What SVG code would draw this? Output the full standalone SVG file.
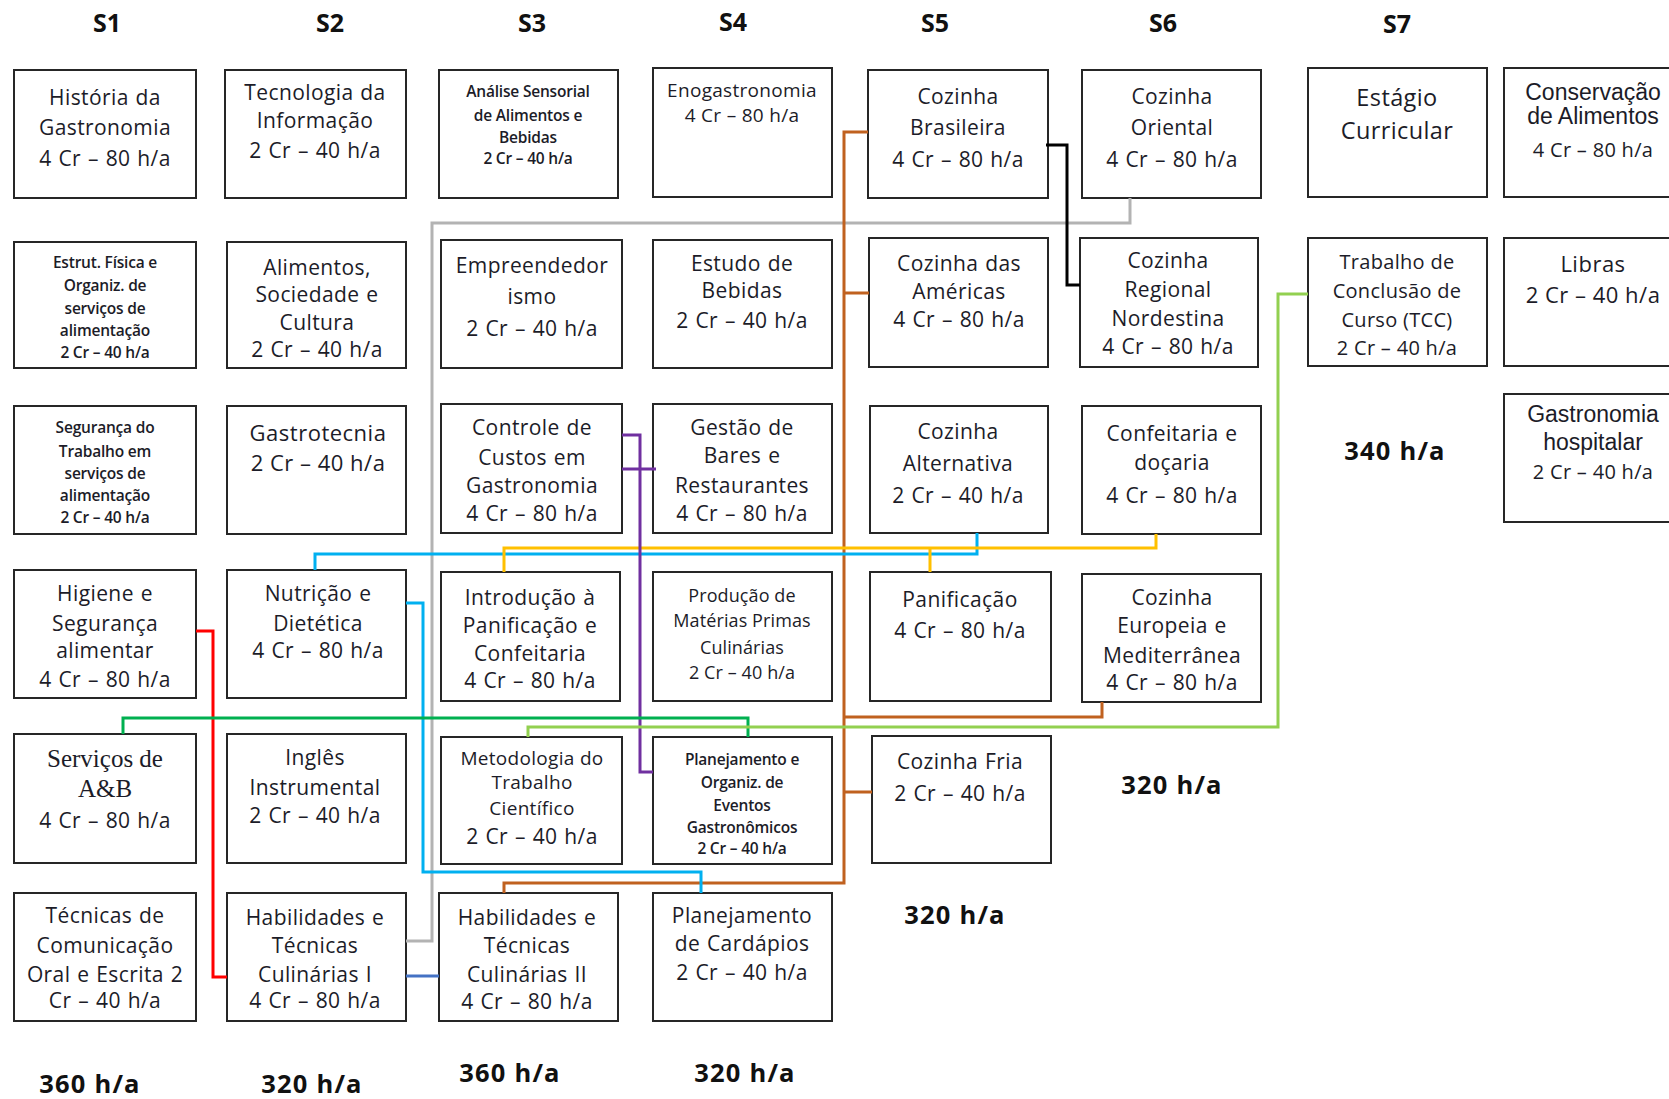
<svg xmlns="http://www.w3.org/2000/svg" width="1669" height="1099" viewBox="0 0 1669 1099">
<style>
.bg{fill:#fff}
.box{fill:#fff;stroke:#262626;stroke-width:2}
text{font-family:"Open Sans","Liberation Sans",sans-serif;fill:#1c1c28;text-anchor:middle}
.t{font-size:21px;letter-spacing:0.4px;word-spacing:1px}
.t19{font-size:19px;letter-spacing:0.3px}
.t18{font-size:18px;letter-spacing:0.1px}
.t20{font-size:20px;letter-spacing:0.3px}
.t22{font-size:22px;letter-spacing:0.5px}
.t24{font-size:23.5px;letter-spacing:0.4px}
.s{font-size:15.5px;font-weight:600;letter-spacing:-0.2px}
.ar{font-family:"Liberation Sans",Arial,sans-serif;font-size:23px}
.sf{font-family:"Liberation Serif","Times New Roman",serif;font-size:25px}
.h{font-size:25px;font-weight:700;fill:#111}
.tot{font-size:25.5px;font-weight:700;fill:#111;letter-spacing:1.2px}
.c{fill:none;stroke-width:3;stroke-linejoin:miter;stroke-linecap:butt}
</style>
<rect class="bg" x="0" y="0" width="1669" height="1099"/>

<g id="headings">
<text class="h" x="107" y="32">S1</text>
<text class="h" x="330" y="32">S2</text>
<text class="h" x="532" y="32">S3</text>
<text class="h" x="733" y="31">S4</text>
<text class="h" x="935" y="32">S5</text>
<text class="h" x="1163" y="32">S6</text>
<text class="h" x="1397" y="33">S7</text>
</g>

<g id="n1"><rect class="box" x="14" y="70" width="182" height="128"/>
<text class="t"><tspan x="105" y="105">História da</tspan><tspan x="105" y="135">Gastronomia</tspan><tspan x="105" y="166">4 Cr – 80 h/a</tspan></text></g>
<g id="n2"><rect class="box" x="225" y="70" width="181" height="128"/>
<text class="t"><tspan x="315" y="100">Tecnologia da</tspan><tspan x="315" y="128">Informação</tspan><tspan x="315" y="158">2 Cr – 40 h/a</tspan></text></g>
<g id="n3"><rect class="box" x="439" y="70" width="179" height="128"/>
<text class="s"><tspan x="528" y="97">Análise Sensorial</tspan><tspan x="528" y="121">de Alimentos e</tspan><tspan x="528" y="143">Bebidas</tspan><tspan x="528" y="164">2 Cr – 40 h/a</tspan></text></g>
<g id="n4"><rect class="box" x="653" y="68" width="179" height="129"/>
<text class="t19"><tspan x="742" y="97">Enogastronomia</tspan><tspan x="742" y="122">4 Cr – 80 h/a</tspan></text></g>
<g id="n5"><rect class="box" x="868" y="70" width="180" height="128"/>
<text class="t"><tspan x="958" y="104">Cozinha</tspan><tspan x="958" y="135">Brasileira</tspan><tspan x="958" y="167">4 Cr – 80 h/a</tspan></text></g>
<g id="n6"><rect class="box" x="1082" y="70" width="179" height="128"/>
<text class="t"><tspan x="1172" y="104">Cozinha</tspan><tspan x="1172" y="135">Oriental</tspan><tspan x="1172" y="167">4 Cr – 80 h/a</tspan></text></g>
<g id="n7"><rect class="box" x="1308" y="68" width="179" height="129"/>
<text class="t24"><tspan x="1397" y="106">Estágio</tspan><tspan x="1397" y="139">Curricular</tspan></text></g>
<g id="n8"><rect class="box" x="1504" y="68" width="200" height="129"/>
<text class="ar"><tspan x="1593" y="100">Conservação</tspan><tspan x="1593" y="124">de Alimentos</tspan></text>
<text class="t20" x="1593" y="157">4 Cr – 80 h/a</text></g>

<g id="n9"><rect class="box" x="14" y="242" width="182" height="126"/>
<text class="s"><tspan x="105" y="268">Estrut. Física e</tspan><tspan x="105" y="291">Organiz. de</tspan><tspan x="105" y="314">serviços de</tspan><tspan x="105" y="336">alimentação</tspan><tspan x="105" y="358">2 Cr – 40 h/a</tspan></text></g>
<g id="n10"><rect class="box" x="227" y="242" width="179" height="126"/>
<text class="t"><tspan x="317" y="275">Alimentos,</tspan><tspan x="317" y="302">Sociedade e</tspan><tspan x="317" y="330">Cultura</tspan><tspan x="317" y="357">2 Cr – 40 h/a</tspan></text></g>
<g id="n11"><rect class="box" x="441" y="240" width="181" height="128"/>
<text class="t"><tspan x="532" y="273">Empreendedor</tspan><tspan x="532" y="304">ismo</tspan><tspan x="532" y="336">2 Cr – 40 h/a</tspan></text></g>
<g id="n12"><rect class="box" x="653" y="240" width="179" height="128"/>
<text class="t"><tspan x="742" y="271">Estudo de</tspan><tspan x="742" y="298">Bebidas</tspan><tspan x="742" y="328">2 Cr – 40 h/a</tspan></text></g>
<g id="n13"><rect class="box" x="869" y="238" width="179" height="129"/>
<text class="t"><tspan x="959" y="271">Cozinha das</tspan><tspan x="959" y="299">Américas</tspan><tspan x="959" y="327">4 Cr – 80 h/a</tspan></text></g>
<g id="n14"><rect class="box" x="1080" y="238" width="178" height="129"/>
<text class="t"><tspan x="1168" y="268">Cozinha</tspan><tspan x="1168" y="297">Regional</tspan><tspan x="1168" y="326">Nordestina</tspan><tspan x="1168" y="354">4 Cr – 80 h/a</tspan></text></g>
<g id="n15"><rect class="box" x="1308" y="238" width="179" height="128"/>
<text class="t20"><tspan x="1397" y="269">Trabalho de</tspan><tspan x="1397" y="298">Conclusão de</tspan><tspan x="1397" y="327">Curso (TCC)</tspan><tspan x="1397" y="355">2 Cr – 40 h/a</tspan></text></g>
<g id="n16"><rect class="box" x="1504" y="238" width="200" height="128"/>
<text class="t22"><tspan x="1593" y="272">Libras</tspan><tspan x="1593" y="303">2 Cr – 40 h/a</tspan></text></g>

<g id="n17"><rect class="box" x="14" y="406" width="182" height="128"/>
<text class="s"><tspan x="105" y="433">Segurança do</tspan><tspan x="105" y="457">Trabalho em</tspan><tspan x="105" y="479">serviços de</tspan><tspan x="105" y="501">alimentação</tspan><tspan x="105" y="523">2 Cr – 40 h/a</tspan></text></g>
<g id="n18"><rect class="box" x="227" y="406" width="179" height="128"/>
<text class="t22"><tspan x="318" y="441">Gastrotecnia</tspan><tspan x="318" y="471">2 Cr – 40 h/a</tspan></text></g>
<g id="n19"><rect class="box" x="441" y="404" width="181" height="129"/>
<text class="t"><tspan x="532" y="435">Controle de</tspan><tspan x="532" y="465">Custos em</tspan><tspan x="532" y="493">Gastronomia</tspan><tspan x="532" y="521">4 Cr – 80 h/a</tspan></text></g>
<g id="n20"><rect class="box" x="653" y="404" width="179" height="129"/>
<text class="t"><tspan x="742" y="435">Gestão de</tspan><tspan x="742" y="463">Bares e</tspan><tspan x="742" y="493">Restaurantes</tspan><tspan x="742" y="521">4 Cr – 80 h/a</tspan></text></g>
<g id="n21"><rect class="box" x="870" y="406" width="178" height="127"/>
<text class="t"><tspan x="958" y="439">Cozinha</tspan><tspan x="958" y="471">Alternativa</tspan><tspan x="958" y="503">2 Cr – 40 h/a</tspan></text></g>
<g id="n22"><rect class="box" x="1082" y="406" width="179" height="128"/>
<text class="t"><tspan x="1172" y="441">Confeitaria e</tspan><tspan x="1172" y="470">doçaria</tspan><tspan x="1172" y="503">4 Cr – 80 h/a</tspan></text></g>
<g id="n23"><rect class="box" x="1504" y="394" width="200" height="128"/>
<text class="ar"><tspan x="1593" y="422">Gastronomia</tspan><tspan x="1593" y="450">hospitalar</tspan></text>
<text class="t20" x="1593" y="479">2 Cr – 40 h/a</text></g>

<g id="n24"><rect class="box" x="14" y="570" width="182" height="128"/>
<text class="t"><tspan x="105" y="601">Higiene e</tspan><tspan x="105" y="631">Segurança</tspan><tspan x="105" y="658">alimentar</tspan><tspan x="105" y="687">4 Cr – 80 h/a</tspan></text></g>
<g id="n25"><rect class="box" x="227" y="570" width="179" height="128"/>
<text class="t"><tspan x="318" y="601">Nutrição e</tspan><tspan x="318" y="631">Dietética</tspan><tspan x="318" y="658">4 Cr – 80 h/a</tspan></text></g>
<g id="n26"><rect class="box" x="441" y="572" width="179" height="129"/>
<text class="t"><tspan x="530" y="605">Introdução à</tspan><tspan x="530" y="633">Panificação e</tspan><tspan x="530" y="661">Confeitaria</tspan><tspan x="530" y="688">4 Cr – 80 h/a</tspan></text></g>
<g id="n27"><rect class="box" x="653" y="572" width="179" height="129"/>
<text class="t18"><tspan x="742" y="602">Produção de</tspan><tspan x="742" y="627">Matérias Primas</tspan><tspan x="742" y="654">Culinárias</tspan><tspan x="742" y="679">2 Cr – 40 h/a</tspan></text></g>
<g id="n28"><rect class="box" x="870" y="572" width="181" height="129"/>
<text class="t"><tspan x="960" y="607">Panificação</tspan><tspan x="960" y="638">4 Cr – 80 h/a</tspan></text></g>
<g id="n29"><rect class="box" x="1082" y="574" width="179" height="128"/>
<text class="t"><tspan x="1172" y="605">Cozinha</tspan><tspan x="1172" y="633">Europeia e</tspan><tspan x="1172" y="663">Mediterrânea</tspan><tspan x="1172" y="690">4 Cr – 80 h/a</tspan></text></g>

<g id="n30"><rect class="box" x="14" y="734" width="182" height="129"/>
<text class="sf"><tspan x="105" y="767">Serviços de</tspan><tspan x="105" y="797">A&amp;B</tspan></text>
<text class="t" x="105" y="828">4 Cr – 80 h/a</text></g>
<g id="n31"><rect class="box" x="227" y="734" width="179" height="129"/>
<text class="t"><tspan x="315" y="765">Inglês</tspan><tspan x="315" y="795">Instrumental</tspan><tspan x="315" y="823">2 Cr – 40 h/a</tspan></text></g>
<g id="n32"><rect class="box" x="441" y="737" width="181" height="127"/>
<text class="t19"><tspan x="532" y="765">Metodologia do</tspan><tspan x="532" y="789">Trabalho</tspan><tspan x="532" y="815">Científico</tspan></text>
<text class="t" x="532" y="844">2 Cr – 40 h/a</text></g>
<g id="n33"><rect class="box" x="653" y="737" width="179" height="127"/>
<text class="s"><tspan x="742" y="765">Planejamento e</tspan><tspan x="742" y="788">Organiz. de</tspan><tspan x="742" y="811">Eventos</tspan><tspan x="742" y="833">Gastronômicos</tspan><tspan x="742" y="854">2 Cr – 40 h/a</tspan></text></g>
<g id="n34"><rect class="box" x="872" y="736" width="179" height="127"/>
<text class="t"><tspan x="960" y="769">Cozinha Fria</tspan><tspan x="960" y="801">2 Cr – 40 h/a</tspan></text></g>

<g id="n35"><rect class="box" x="14" y="893" width="182" height="128"/>
<text class="t"><tspan x="105" y="923">Técnicas de</tspan><tspan x="105" y="953">Comunicação</tspan><tspan x="105" y="982">Oral e Escrita 2</tspan><tspan x="105" y="1008">Cr – 40 h/a</tspan></text></g>
<g id="n36"><rect class="box" x="227" y="893" width="179" height="128"/>
<text class="t"><tspan x="315" y="925">Habilidades e</tspan><tspan x="315" y="953">Técnicas</tspan><tspan x="315" y="982">Culinárias I</tspan><tspan x="315" y="1008">4 Cr – 80 h/a</tspan></text></g>
<g id="n37"><rect class="box" x="439" y="893" width="179" height="128"/>
<text class="t"><tspan x="527" y="925">Habilidades e</tspan><tspan x="527" y="953">Técnicas</tspan><tspan x="527" y="982">Culinárias II</tspan><tspan x="527" y="1009">4 Cr – 80 h/a</tspan></text></g>
<g id="n38"><rect class="box" x="653" y="893" width="179" height="128"/>
<text class="t"><tspan x="742" y="923">Planejamento</tspan><tspan x="742" y="951">de Cardápios</tspan><tspan x="742" y="980">2 Cr – 40 h/a</tspan></text></g>

<g id="totals">
<text class="tot" x="90" y="1093">360 h/a</text>
<text class="tot" x="312" y="1093">320 h/a</text>
<text class="tot" x="510" y="1082">360 h/a</text>
<text class="tot" x="745" y="1082">320 h/a</text>
<text class="tot" x="955" y="924">320 h/a</text>
<text class="tot" x="1172" y="794">320 h/a</text>
<text class="tot" x="1395" y="460">340 h/a</text>
</g>

<g id="connectors">
<path class="c" stroke="#B3B3B3" d="M1130,198 V223 H432 V941 H406"/>
<path class="c" stroke="#C0611F" d="M868,132 H844 V883 H504 V893 M844,293 H869 M844,717 H1102 V702 M844,792 H872"/>
<path class="c" stroke="#000" d="M1046,145 H1067 V285 H1080"/>
<path class="c" stroke="#00B0F0" d="M977,533 V554 H315 V570 M406,603 H423 V872 H701 V893"/>
<path class="c" stroke="#FFC000" d="M1156,534 V548 H504 V572 M930,548 V572"/>
<path class="c" stroke="#7030A0" d="M622,435 H640 V772 H653 M622,469 H656"/>
<path class="c" stroke="#FF0000" d="M196,631 H213 V977 H227"/>
<path class="c" stroke="#00B050" d="M123,734 V718 H748 V737"/>
<path class="c" stroke="#92D050" d="M1308,294 H1278 V727 H528 V737"/>
<path class="c" stroke="#4472C4" d="M406,976 H439"/>
</g>
</svg>
